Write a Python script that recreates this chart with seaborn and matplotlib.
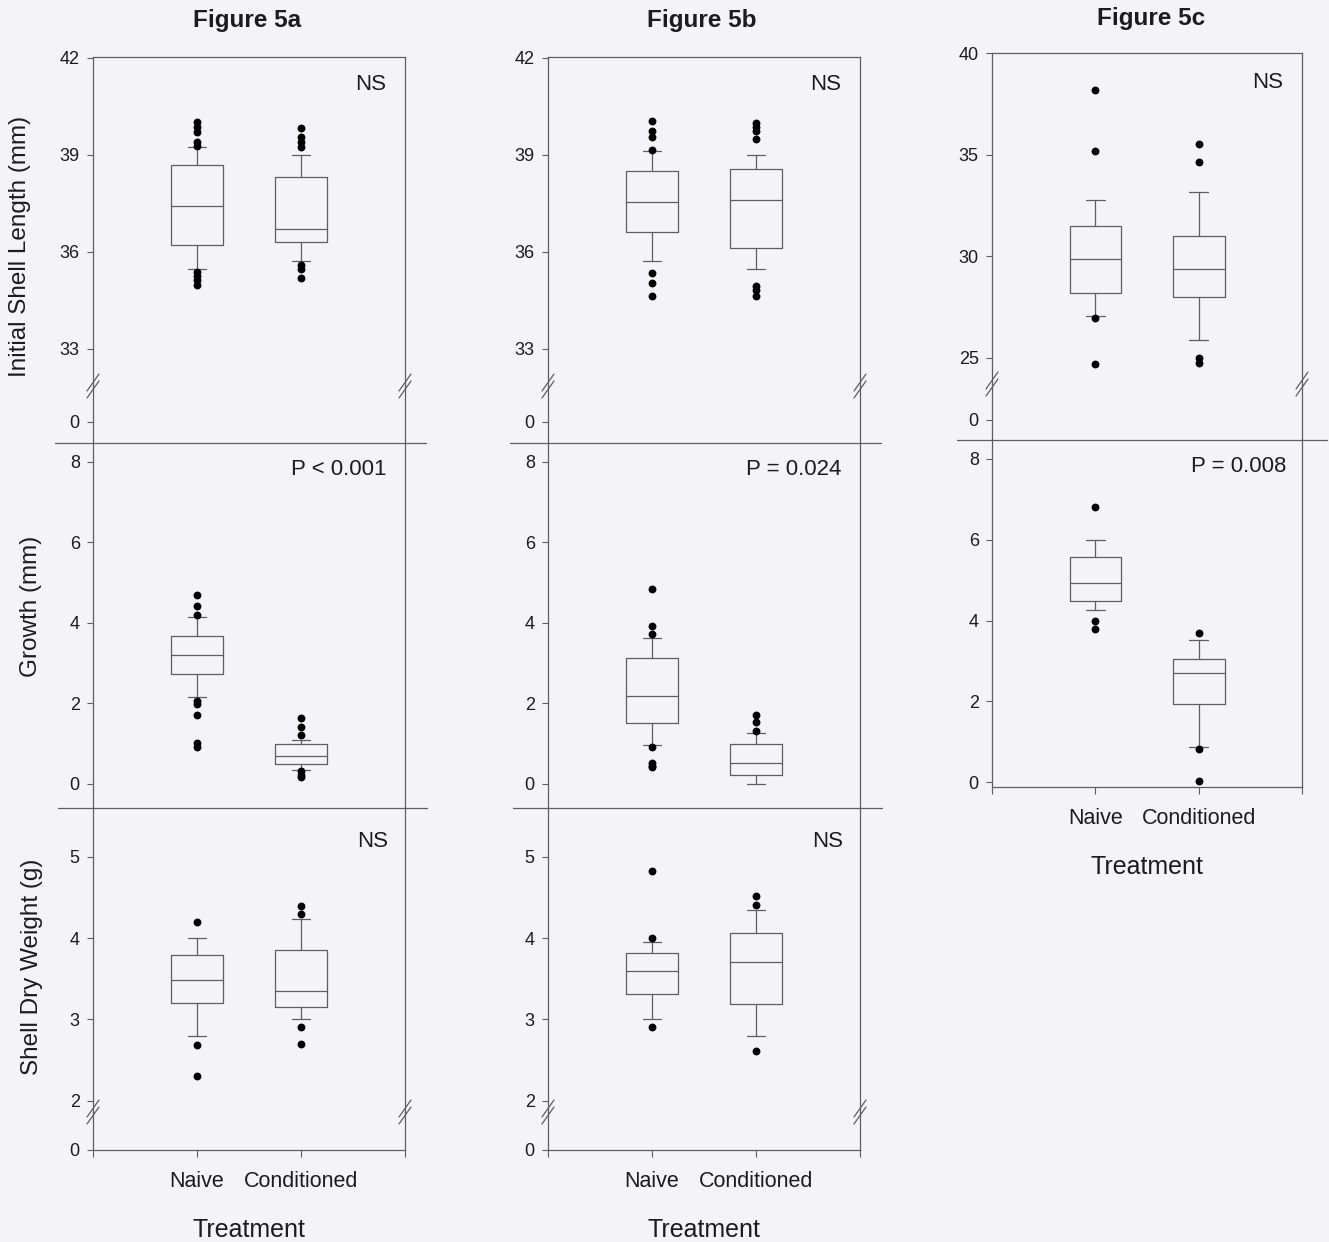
import matplotlib.pyplot as plt
import pandas as pd
import seaborn as sns
from matplotlib.lines import Line2D

TREATMENTS = ["Naive", "Conditioned"]

# box summaries per treatment: [lower whisker, q1, median, q3, upper whisker]
LENGTH_5A = [[35.45, 36.2, 37.4, 38.7, 39.25], [35.7, 36.3, 36.7, 38.3, 39.0]]
LENGTH_5A_OUT = [[40.03, 39.87, 39.72, 39.41, 39.28, 35.38, 35.25, 35.12, 34.97],
                 [39.82, 39.54, 39.41, 39.25, 35.59, 35.46, 35.2]]
GROWTH_5A = [[2.15, 2.74, 3.19, 3.68, 4.14], [0.35, 0.5, 0.7, 1.0, 1.09]]
GROWTH_5A_OUT = [[4.7, 4.41, 4.2, 2.07, 1.99, 1.71, 1.01, 0.91],
                 [1.63, 1.42, 1.22, 0.31, 0.22, 0.18]]
WEIGHT_5A = [[2.8, 3.2, 3.49, 3.79, 4.0], [3.0, 3.15, 3.35, 3.85, 4.24]]
WEIGHT_5A_OUT = [[4.2, 2.69, 2.3], [4.4, 4.3, 2.9, 2.7]]

LENGTH_5B = [[35.7, 36.61, 37.55, 38.49, 39.11], [35.46, 36.12, 37.59, 38.55, 38.99]]
LENGTH_5B_OUT = [[40.04, 39.74, 39.56, 39.14, 35.33, 35.02, 34.63],
                 [39.99, 39.87, 39.73, 39.5, 34.95, 34.82, 34.64]]
GROWTH_5B = [[0.96, 1.51, 2.18, 3.12, 3.62], [0.0, 0.22, 0.52, 0.99, 1.26]]
GROWTH_5B_OUT = [[4.83, 3.92, 3.72, 0.91, 0.53, 0.45, 0.41], [1.72, 1.53, 1.32]]
WEIGHT_5B = [[3.0, 3.31, 3.6, 3.81, 3.95], [2.8, 3.19, 3.71, 4.06, 4.35]]
WEIGHT_5B_OUT = [[4.82, 4.0, 2.9], [4.52, 4.41, 2.61]]

LENGTH_5C = [[27.06, 28.18, 29.88, 31.49, 32.77], [25.88, 28.01, 29.36, 31.0, 33.16]]
LENGTH_5C_OUT = [[38.18, 35.18, 26.98, 24.69], [35.51, 34.62, 24.98, 24.77]]
GROWTH_5C = [[4.26, 4.48, 4.94, 5.58, 5.99], [0.88, 1.94, 2.7, 3.05, 3.51]]
GROWTH_5C_OUT = [[6.81, 3.99, 3.78], [3.69, 0.81, 0.02]]

LENGTH_TICKS_AB = [33, 36, 39, 42]
LENGTH_TICKS_C = [25, 30, 35, 40]
GROWTH_TICKS = [0, 2, 4, 6, 8]
WEIGHT_TICKS = [2, 3, 4, 5]

BG = "#f4f3f8"
LINE = "#5e5e5e"
TEXT = "#1c1c1c"

sns.set_style("white")
plt.rcParams["font.family"] = ["Liberation Sans", "DejaVu Sans"]
plt.rcParams["text.color"] = TEXT
plt.rcParams["axes.labelcolor"] = TEXT

W, H = 1329, 1242
fig = plt.figure(figsize=(W / 100, H / 100), dpi=100, facecolor=BG)


def add_ax(x0, x1, top, bottom):
    ax = fig.add_axes([x0 / W, 1 - bottom / H, (x1 - x0) / W, (bottom - top) / H])
    ax.set_facecolor("none")
    for side in ["top", "bottom", "left", "right"]:
        ax.spines[side].set_color(LINE)
        ax.spines[side].set_linewidth(0.9)
    ax.set_xlim(0, 3)
    ax.tick_params(axis="y", direction="out", length=4.5, width=0.8, color=LINE,
                   labelsize=13, pad=5, labelcolor=TEXT, left=True)
    ax.tick_params(axis="x", bottom=False, labelbottom=False)
    return ax


def draw_boxes(ax, summary, outliers):
    stats = [dict(whislo=s[0], q1=s[1], med=s[2], q3=s[3], whishi=s[4], label=t)
             for s, t in zip(summary, TREATMENTS)]
    lp = dict(color=LINE, linewidth=0.9)
    ax.bxp(stats, positions=[1, 2], widths=0.5, capwidths=0.18, showfliers=False,
           boxprops=lp, whiskerprops=lp, capprops=lp, medianprops=lp,
           manage_ticks=False)
    fl = pd.DataFrame({
        "pos": [1] * len(outliers[0]) + [2] * len(outliers[1]),
        "value": outliers[0] + outliers[1],
    })
    sns.scatterplot(data=fl, x="pos", y="value", ax=ax, color="black", s=32,
                    linewidth=0, zorder=5, legend=False)
    ax.set_xlim(0, 3)
    ax.set_xlabel("")
    ax.set_ylabel("")


def fig_line(x0, x1, y0, y1):
    fig.add_artist(Line2D([x0 / W, x1 / W], [1 - y0 / H, 1 - y1 / H],
                          color=LINE, linewidth=0.9, transform=fig.transFigure))


def break_marks(x, y):
    for off in (-3.5, 3.5):
        fig_line(x - 6, x + 6, y + 8.5 + off, y - 8.5 + off)


def x_axis(ax, xlabel_pad):
    ax.spines["bottom"].set_visible(True)
    ax.set_xticks([0, 1, 2, 3])
    ax.set_xticklabels(["", TREATMENTS[0], TREATMENTS[1], ""])
    ax.tick_params(axis="x", bottom=True, labelbottom=True, direction="out",
                   length=5, width=0.8, color=LINE, labelsize=15.5, pad=10,
                   labelcolor=TEXT)
    ax.set_xlabel("Treatment", fontsize=18, labelpad=xlabel_pad)
    ax.xaxis.label.set_visible(True)


def note(ax, text, xf, yf):
    ax.text(xf, yf, text, transform=ax.transAxes, ha="right", va="center",
            fontsize=16, color=TEXT)


columns = [
    ("Figure 5a", 93, 405, LENGTH_5A, LENGTH_5A_OUT, GROWTH_5A, GROWTH_5A_OUT,
     WEIGHT_5A, WEIGHT_5A_OUT, "NS", "P < 0.001", "NS"),
    ("Figure 5b", 548, 860, LENGTH_5B, LENGTH_5B_OUT, GROWTH_5B, GROWTH_5B_OUT,
     WEIGHT_5B, WEIGHT_5B_OUT, "NS", "P = 0.024", "NS"),
]

for (title, x0, x1, lsum, lout, gsum, gout, wsum, wout,
     n1, n2, n3) in columns:
    # initial shell length, broken axis
    ax = add_ax(x0, x1, 57, 386)
    draw_boxes(ax, lsum, lout)
    ax.set_ylim(31.84, 42.03)
    ax.set_yticks(LENGTH_TICKS_AB)
    ax.spines["bottom"].set_visible(False)
    note(ax, n1, 0.94, 0.915)
    axl = add_ax(x0, x1, 386, 443)
    axl.set_ylim(-1, 1.714)
    axl.set_yticks([0])
    axl.spines["top"].set_visible(False)
    axl.spines["bottom"].set_visible(False)
    break_marks(x0, 386)
    break_marks(x1, 386)
    fig_line(x0 - 38, x1 + 21, 443, 443)

    # growth
    ax = add_ax(x0, x1, 443, 808)
    draw_boxes(ax, gsum, gout)
    ax.set_ylim(-0.6, 8.47)
    ax.set_yticks(GROWTH_TICKS)
    ax.spines["top"].set_visible(False)
    ax.spines["bottom"].set_visible(False)
    note(ax, n2, 0.94, 0.928)
    fig_line(x0 - 35, x1 + 22, 808, 808)

    # shell dry weight, broken axis
    ax = add_ax(x0, x1, 808, 1112)
    draw_boxes(ax, wsum, wout)
    ax.set_ylim(1.86, 5.6)
    ax.set_yticks(WEIGHT_TICKS)
    ax.spines["top"].set_visible(False)
    ax.spines["bottom"].set_visible(False)
    note(ax, n3, 0.945, 0.89)
    axl = add_ax(x0, x1, 1112, 1150)
    axl.set_ylim(0, 1)
    axl.set_yticks([0])
    axl.spines["top"].set_visible(False)
    x_axis(axl, 19)
    break_marks(x0, 1112)
    break_marks(x1, 1112)

    fig.text((x0 + x1) / 2 / W - 2 / W, 1 - 21 / H, title, ha="center",
             va="center", fontsize=17.5, fontweight="bold")

# column c
x0, x1 = 992, 1302
ax = add_ax(x0, x1, 53, 384)
draw_boxes(ax, LENGTH_5C, LENGTH_5C_OUT)
ax.set_ylim(23.72, 40.0)
ax.set_yticks(LENGTH_TICKS_C)
ax.spines["bottom"].set_visible(False)
note(ax, "NS", 0.94, 0.912)
axl = add_ax(x0, x1, 384, 440)
axl.set_ylim(-1, 1.8)
axl.set_yticks([0])
axl.spines["top"].set_visible(False)
axl.spines["bottom"].set_visible(False)
break_marks(x0, 384)
break_marks(x1, 384)
fig_line(x0 - 35, x1 + 25, 440, 440)

ax = add_ax(x0, x1, 440, 787)
draw_boxes(ax, GROWTH_5C, GROWTH_5C_OUT)
ax.set_ylim(-0.12, 8.47)
ax.set_yticks(GROWTH_TICKS)
ax.spines["top"].set_visible(False)
note(ax, "P = 0.008", 0.948, 0.925)
x_axis(ax, 19)
fig.text(1151 / W, 1 - 19 / H, "Figure 5c", ha="center", va="center",
         fontsize=17.5, fontweight="bold")

# y axis titles
fig.text(20 / W, 1 - 246 / H, "Initial Shell Length (mm)", rotation=90,
         ha="center", va="center", fontsize=17.5)
fig.text(31 / W, 1 - 606 / H, "Growth (mm)", rotation=90,
         ha="center", va="center", fontsize=17.5)
fig.text(32 / W, 1 - 967 / H, "Shell Dry Weight (g)", rotation=90,
         ha="center", va="center", fontsize=17.5)

fig.savefig("out.png", dpi=100, facecolor=BG)
